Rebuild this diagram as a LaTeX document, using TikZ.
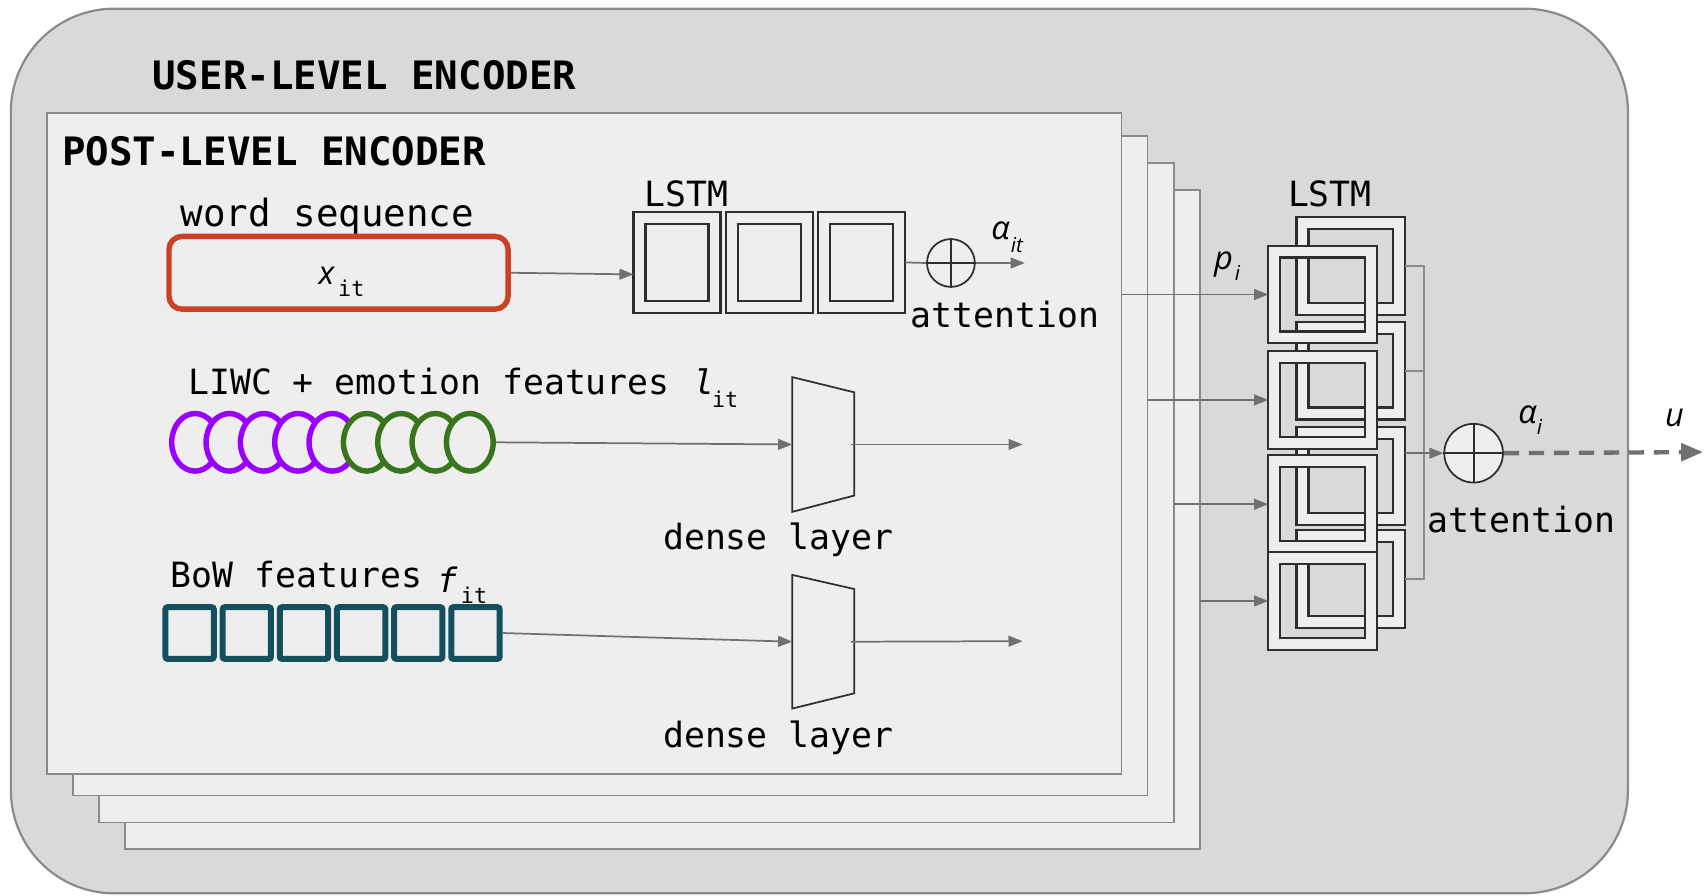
\documentclass[tikz,border=0pt]{standalone}
\usepackage{fontspec}
\setmonofont{DejaVu Sans Mono}
\newfontfamily\varfont{Open Sans}
\usetikzlibrary{arrows.meta,shapes.geometric}
\definecolor{outerbg}{HTML}{D9D9D9}
\definecolor{sheetbg}{HTML}{EEEEEE}
\definecolor{edgegray}{HTML}{8A8A8A}
\definecolor{arrowgray}{HTML}{707070}
\definecolor{busgray}{HTML}{8C8C8C}
\definecolor{boxline}{HTML}{2E2E2E}
\definecolor{wordred}{HTML}{CC4125}
\definecolor{liwcpurple}{HTML}{9900FF}
\definecolor{liwcgreen}{HTML}{38761D}
\definecolor{bowteal}{HTML}{134F5C}
\tikzset{
  lbl/.style={font=\ttfamily\fontsize{32}{36}\selectfont, inner sep=0pt, anchor=base west},
  biglbl/.style={font=\ttfamily\fontsize{34.5}{38}\selectfont, inner sep=0pt, anchor=base west},
  ttl/.style={font=\ttfamily\bfseries\fontsize{36}{40}\selectfont, inner sep=0pt, anchor=base west},
  var/.style={font=\varfont\itshape\fontsize{30}{34}\selectfont, inner sep=0pt, anchor=base west},
  monovar/.style={font=\ttfamily\itshape\fontsize{31}{34}\selectfont, inner sep=0pt, anchor=base west},
  ttsub/.style={font=\ttfamily\fontsize{20}{22}\selectfont, inner sep=0pt, anchor=base west},
  varsub/.style={font=\varfont\itshape\fontsize{19}{21}\selectfont, inner sep=0pt, anchor=base west},
  conn/.style={draw=arrowgray, line width=1.6pt, -{Triangle[length=13pt,width=10pt]}},
  plainline/.style={draw=arrowgray, line width=1.6pt},
  busline/.style={draw=busgray, line width=1.8pt},
  sheet/.style={draw=edgegray, line width=1.5pt, fill=sheetbg, anchor=north west, minimum width=989pt, inner sep=0pt, outer sep=0pt},
  cellout/.style={draw=boxline, line width=2pt, anchor=north west, minimum width=80pt, minimum height=93pt, inner sep=0pt, outer sep=0pt, fill=sheetbg},
  cellin/.style={draw=boxline, line width=2pt, minimum width=58pt, minimum height=71pt, inner sep=0pt, outer sep=0pt},
  ucellout/.style={draw=boxline, line width=2pt, anchor=north west, minimum width=100pt, minimum height=90pt, inner sep=0pt, outer sep=0pt},
  ucellin/.style={draw=boxline, line width=2pt, minimum width=78pt, minimum height=68pt, inner sep=0pt, outer sep=0pt},
  liwcell/.style={ellipse, line width=5pt, fill=sheetbg, minimum width=43pt, minimum height=53pt, inner sep=0pt},
  bowcell/.style={rectangle, draw=bowteal, line width=5.5pt, rounded corners=2pt, minimum width=44.5pt, minimum height=47.5pt, inner sep=0pt},
  attcircle/.style={circle, draw=boxline, line width=1.6pt, inner sep=0pt},
  densebox/.style={inner sep=0pt, outer sep=0pt, anchor=north west},
  trap/.style={draw=boxline, line width=1.6pt, line join=miter},
}
\begin{document}
\begin{tikzpicture}[x=1pt,y=-1pt]
\useasboundingbox (0,0) rectangle (1568,824);
\fill[white] (0,0) rectangle (1568,824);
% outer user-level box
\node[draw=edgegray, line width=2pt, fill=outerbg, rounded corners=95pt, anchor=north west,
      minimum width=1488pt, minimum height=814pt, inner sep=0pt, outer sep=0pt] (outer) at (10,8) {};
\node[ttl] (tUser) at (140,82) {USER-LEVEL ENCODER};
% stacked post-level sheets
\node[sheet, minimum height=606pt] (sheet3) at (115,175) {};
\node[sheet, minimum height=607pt] (sheet2) at (91,150) {};
\node[sheet, minimum height=607pt] (sheet1) at (67,125) {};
\node[sheet, minimum height=608pt] (sheet0) at (43,104) {};
\node[ttl] (tPost) at (57,152) {POST-LEVEL ENCODER};
% word sequence
\node[biglbl] (tWord) at (166,208) {word sequence};
\node[draw=wordred, line width=5pt, rounded corners=12pt, minimum width=312pt, minimum height=67pt,
      inner sep=0pt] (wordseq) at (311.5,251) {};
\node[var] (vX) at (293,262) {x};
\node[ttsub] (vXs) at (311,273) {it};
% left LSTM
\node[lbl] (tLstmA) at (593,190) {LSTM};
\node[cellout] (lstmA1) at (583,195) {};
\node[cellout] (lstmA2) at (668,195) {};
\node[cellout] (lstmA3) at (753,195) {};
\node[cellin] (lstmA1i) at (lstmA1.center) {};
\node[cellin] (lstmA2i) at (lstmA2.center) {};
\node[cellin] (lstmA3i) at (lstmA3.center) {};
\draw[conn] (wordseq.east) -- ([yshift=-11pt]lstmA1.west);
\node[attcircle, minimum size=44pt] (attA) at (875,242) {};
\draw[boxline, line width=1.6pt] (attA.north) -- (attA.south) (attA.west) -- (attA.east);
\draw[plainline] (lstmA3.east) -- (attA.west);
\coordinate (alphaEnd) at (943,242);
\draw[conn] (attA.east) -- (alphaEnd);
\node[var] (vAit) at (912,220) {α};
\node[varsub] (vAits) at (930,232) {it};
\node[lbl] (tAttA) at (838,301) {attention};
% LIWC
\node[lbl] (tLiwc) at (173,363) {LIWC + emotion features};
\node[monovar] (vL) at (638,363) {l};
\node[ttsub] (vLs) at (655,375) {it};
\foreach \i in {1,...,5} \node[liwcell, draw=liwcpurple] (liwc\i) at ({179.5+31.6*(\i-1)},407) {};
\foreach \i in {6,...,9} \node[liwcell, draw=liwcgreen] (liwc\i) at ({179.5+31.6*(\i-1)},407) {};
\node[densebox, minimum width=57pt, minimum height=124pt] (denseA) at (729,347) {};
\draw[trap] (denseA.north west) -- ([yshift=-14pt]denseA.north east) -- ([yshift=15pt]denseA.south east) -- (denseA.south west) -- cycle;
\draw[conn] (liwc9.east) -- (denseA.west);
\coordinate (denseAEnd) at (941,409);
\draw[conn] ([xshift=-3pt]denseA.east) -- (denseAEnd);
\node[lbl] (tDenseA) at (610,506) {dense layer};
% BoW
\node[lbl] (tBow) at (157,541) {BoW features};
\node[monovar] (vF) at (402,545) {f};
\node[ttsub] (vFs) at (424,555) {it};
\foreach \i in {1,...,6} \node[bowcell] (bow\i) at ({174.5+52.6*(\i-1)},582.5) {};
\node[densebox, minimum width=57pt, minimum height=123pt] (denseB) at (729,529) {};
\draw[trap] (denseB.north west) -- ([yshift=-13pt]denseB.north east) -- ([yshift=14pt]denseB.south east) -- (denseB.south west) -- cycle;
\draw[conn] (bow6.east) -- (denseB.west);
\coordinate (denseBEnd) at (941,590);
\draw[conn] ([xshift=-3pt]denseB.east) -- (denseBEnd);
\node[lbl] (tDenseB) at (610,688) {dense layer};
% user-level LSTM: back column
\node[lbl] (tLstmB) at (1185,190) {LSTM};
\foreach \i/\t in {1/200,2/296,3/393,4/488} {
  \node[ucellout, fill=sheetbg] (bo\i) at (1193,\t) {};
  \node[ucellin, fill=outerbg] (bi\i) at (bo\i.center) {};
}
\node[attcircle, minimum size=54pt, fill=sheetbg] (attB) at (1356,417) {};
\draw[boxline, line width=1.6pt] (attB.north) -- (attB.south) (attB.west) -- (attB.east);
\coordinate (bus) at (1310,0);
\draw[busline] (bo1.east) -- (bo1.east -| bus) -- (bo4.east -| bus) -- (bo4.east);
\draw[busline] (bo2.east) -- (bo2.east -| bus);
\draw[conn] (bo3.east |- attB.west) -- (attB.west);
% front column
\foreach \i/\t in {1/226,2/323,3/419,4/508} {
  \fill[sheetbg, even odd rule] (1167,\t) rectangle ++(100,90) (1178,\t+11) rectangle ++(78,68);
  \node[ucellout] (fo\i) at (1167,\t) {};
  \node[ucellin] (fi\i) at (fo\i.center) {};
}
% p_i arrows
\draw[conn] (sheet0.east |- fo1.west) -- (fo1.west);
\draw[conn] (sheet1.east |- fo2.west) -- (fo2.west);
\draw[conn] (sheet2.east |- fo3.west) -- (fo3.west);
\draw[conn] (sheet3.east |- fo4.west) -- (fo4.west);
\node[var] (vP) at (1117,248) {p};
\node[varsub] (vPs) at (1136,258) {i};
% output
\node[var] (vAi) at (1397,390) {α};
\node[varsub] (vAis) at (1414,400) {i};
\node[lbl] (tAttB) at (1313,490) {attention};
\coordinate (uEnd) at (1567,416);
\draw[draw=arrowgray, line width=4pt, dash pattern=on 14pt off 9pt, -{Triangle[length=20pt,width=16pt]}] (attB.east) -- (uEnd);
\node[var] (vU) at (1532,392) {u};
\end{tikzpicture}
\end{document}
